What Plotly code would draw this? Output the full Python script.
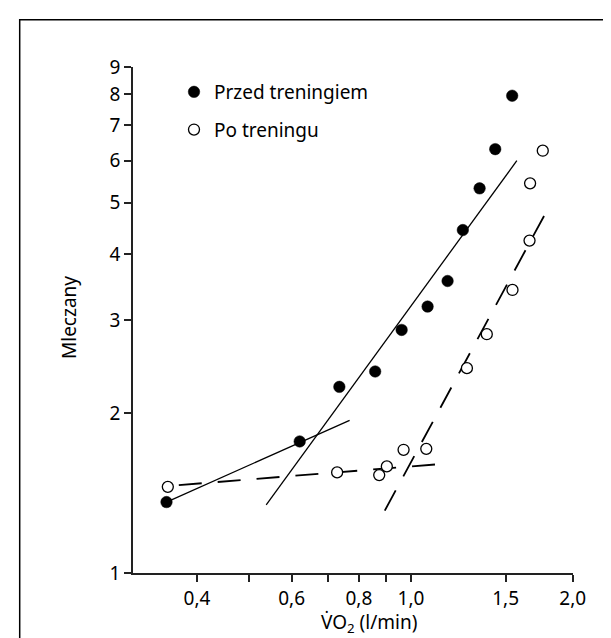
import plotly.graph_objects as go
import math

# ---- data ----
pre_x = [0.351, 0.621, 0.736, 0.858, 0.961, 1.074, 1.170, 1.249, 1.342, 1.435, 1.543]
pre_y = [1.361, 1.771, 2.245, 2.400, 2.875, 3.182, 3.556, 4.437, 5.318, 6.306, 7.953]

post_x = [0.353, 0.729, 0.873, 0.902, 0.969, 1.068, 1.271, 1.384, 1.545, 1.662, 1.666, 1.759]
post_y = [1.454, 1.548, 1.530, 1.589, 1.708, 1.715, 2.435, 2.822, 3.420, 4.239, 5.435, 6.263]

# fitted lines (end points)
pre_low_x = [0.351, 0.769]
pre_low_y = [1.361, 1.941]
pre_high_x = [0.538, 1.574]
pre_high_y = [1.345, 5.998]
post_low_x = [0.370, 1.166]
post_low_y = [1.465, 1.609]
post_high_x = [0.894, 1.817]
post_high_y = [1.311, 4.962]

x_tickvals = [0.4, 0.6, 0.8, 1.0, 1.5, 2.0]
x_ticktext = ["0,4", "0,6", "0,8", "1,0", "1,5", "2,0"]
x_minorvals = [0.5, 0.7, 0.9]
y_tickvals = [1, 2, 3, 4, 5, 6, 7, 8, 9]
y_ticktext = ["1", "2", "3", "4", "5", "6", "7", "8", "9"]

FONT = "Noto Sans"
FS = 19

fig = go.Figure()

solid = dict(color="black", width=1.3)
dashed = dict(color="black", width=1.8, dash="23px,16px")

fig.add_trace(go.Scatter(x=pre_low_x, y=pre_low_y, mode="lines", line=solid, showlegend=False, hoverinfo="skip"))
fig.add_trace(go.Scatter(x=pre_high_x, y=pre_high_y, mode="lines", line=solid, showlegend=False, hoverinfo="skip"))
fig.add_trace(go.Scatter(x=post_low_x, y=post_low_y, mode="lines", line=dashed, showlegend=False, hoverinfo="skip"))
fig.add_trace(go.Scatter(x=post_high_x, y=post_high_y, mode="lines", line=dashed, showlegend=False, hoverinfo="skip"))

fig.add_trace(go.Scatter(
    x=pre_x, y=pre_y, mode="markers", name="Przed treningiem", legendgroup="a",
    marker=dict(symbol="circle", size=11.5, color="black", line=dict(color="black", width=0.5)),
    cliponaxis=False,
))
fig.add_trace(go.Scatter(
    x=post_x, y=post_y, mode="markers", name="Po treningu", legendgroup="b",
    marker=dict(symbol="circle", size=11, color="white", line=dict(color="black", width=1.3)),
    cliponaxis=False,
))

# plot area geometry (px) for frame placement
L, R, T, B = 125, 46, 59, 73
W, H = 611, 638
pw, ph = W - L - R, H - T - B

def px2paper_x(px):
    return (px - L) / pw

def px2paper_y(py):
    return (H - B - py) / ph

fx0, fx1 = px2paper_x(11.7), px2paper_x(605.5)
fy_top, fy_bot = px2paper_y(11.7), px2paper_y(660)

fig.add_shape(type="path", xref="paper", yref="paper",
              path=f"M {fx0} {fy_bot} L {fx0} {fy_top} L {fx1} {fy_top} L {fx1} {fy_bot}",
              line=dict(color="black", width=1.5))

axis_common = dict(
    showline=True, linecolor="#222", linewidth=1.5,
    ticks="outside", ticklen=7, tickwidth=1.5, tickcolor="#222",
    showgrid=False, zeroline=False,
    tickfont=dict(family=FONT, size=FS, color="black"),
)

fig.update_xaxes(type="log", range=[-0.517, 0.3015],
                 tickmode="array", tickvals=x_tickvals, ticktext=x_ticktext,
                 minor=dict(tickmode="array", tickvals=x_minorvals, ticks="outside",
                            ticklen=7, tickwidth=1.5, tickcolor="#222", showgrid=False),
                 **axis_common)
fig.update_yaxes(type="log", range=[0, math.log10(9) + 0.0005],
                 tickmode="array", tickvals=y_tickvals, ticktext=y_ticktext,
                 **axis_common)

fig.add_annotation(text="V\u0307O<sub>2</sub> (l/min)", xref="paper", yref="paper",
                   x=px2paper_x(361), y=px2paper_y(615), showarrow=False,
                   xanchor="center", yanchor="middle",
                   font=dict(family=FONT, size=FS, color="black"))
fig.add_annotation(text="Mleczany", xref="paper", yref="paper",
                   x=px2paper_x(61), y=px2paper_y(310), showarrow=False,
                   textangle=-90, xanchor="center", yanchor="middle",
                   font=dict(family=FONT, size=FS, color="black"))

fig.update_layout(
    width=W, height=H,
    margin=dict(l=L, r=R, t=T, b=B, pad=0),
    paper_bgcolor="white", plot_bgcolor="white",
    font=dict(family=FONT, size=FS, color="black"),
    showlegend=True,
    legend=dict(x=px2paper_x(166), y=px2paper_y(65), xanchor="left", yanchor="top",
                bgcolor="rgba(0,0,0,0)", font=dict(family=FONT, size=FS, color="black"),
                tracegroupgap=10, traceorder="grouped", itemwidth=30),
)

fig.write_html("out.html")
